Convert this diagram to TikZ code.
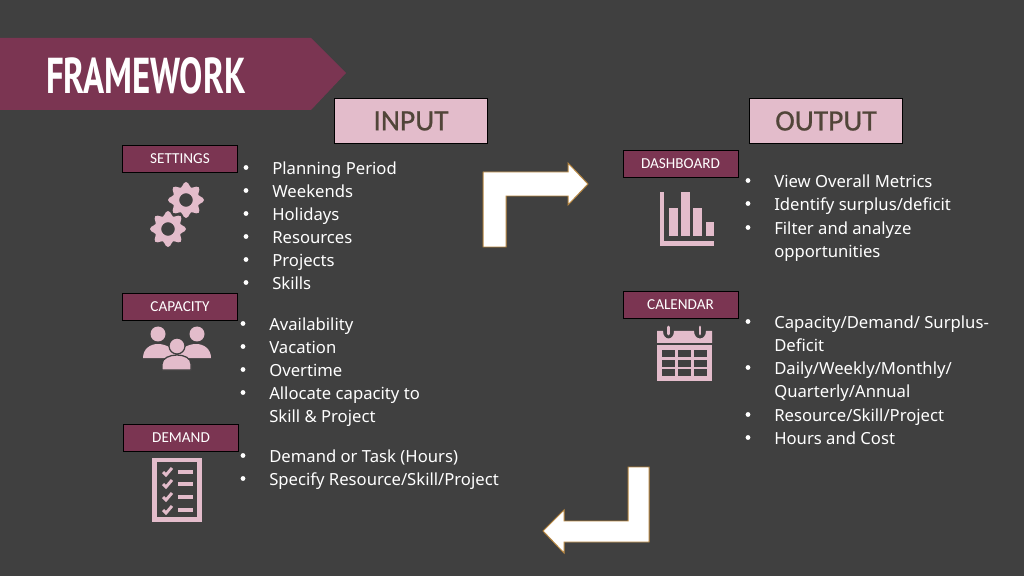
\documentclass[tikz,border=0pt]{standalone}
\usepackage{fontspec}
\setmainfont{Noto Sans}
\newfontfamily\titlefont{PT Sans}
\newfontfamily\tagfont{Carlito}
\newfontfamily\headfont[FakeBold=0.7]{Carlito}
\usetikzlibrary{positioning}
\definecolor{bgdark}{HTML}{404040}
\definecolor{wine}{HTML}{7B3552}
\definecolor{blush}{HTML}{E3BCCB}
\definecolor{headtext}{HTML}{514539}
\definecolor{arrowedge}{HTML}{B5853F}
\tikzset{
    px/.style={x=0.025cm, y=-0.025cm},
    tagbox/.style={draw=black, line width=0.5pt, fill=wine, text=white, minimum width=82pt, minimum height=19pt, inner sep=0pt, font=\fontsize{10.8}{12}\tagfont},
    headbox/.style={draw=black, line width=0.5pt, fill=blush, text=headtext, minimum width=109pt, minimum height=31.5pt, inner sep=0pt, font=\fontsize{21}{23}\headfont},
    listtext/.style={anchor=base west, text=white, inner sep=0pt, font=\fontsize{11.85}{14}\selectfont},
    listdot/.style={circle, fill=white, inner sep=0pt, minimum size=3.4pt},
    turnarrow/.style={draw=arrowedge, line width=0.7pt, fill=white, line join=miter},
    gapline/.style={draw=bgdark, line width=0.9pt, fill=blush},
}
\newcommand{\gearicon}[3]{% centre x, centre y, radius
    \fill[blush, even odd rule]
        plot[smooth cycle, tension=0.5, samples at={0,7.5,...,352.5}, variable=\t]
            ({#1+(#3)*(0.87+0.13*cos(8*\t))*cos(\t)}, {#2+(#3)*(0.87+0.13*cos(8*\t))*sin(\t)})
        (#1,#2) circle ({0.38*(#3)});
}
\newcommand{\bulletitem}[4]{% x of bullet, x of text, y, text
    \node[listdot] at (#1,#3-0.5) {};
    \node[listtext] at (#2,#3+6.5) {#4};
}
\begin{document}
\begin{tikzpicture}[px]
    \fill[bgdark] (0,0) rectangle (1024,576);
    \useasboundingbox (0,0) rectangle (1024,576);

    % title banner
    \fill[wine] (0,38) -- (311,38) -- (346,73) -- (311,110) -- (0,110) -- cycle;
    \node[text=white, inner sep=0pt] (title) at (146,75.5) {\scalebox{0.775}[1.12]{\fontsize{32}{34}\titlefont\bfseries FRAMEWORK}};

    % headings
    \node[headbox] (input) at (411,121) {INPUT};
    \node[headbox] (output) at (826,121) {OUTPUT};

    % tags on the left
    \node[tagbox] (settings) at (180,159) {\raisebox{-0.7pt}{SETTINGS}};
    \node[tagbox] (capacity) at (180,307) {\raisebox{-0.7pt}{CAPACITY}};
    \node[tagbox] (demand) at (181,438) {\raisebox{-0.7pt}{DEMAND}};

    % tags on the right
    \node[tagbox] (dashboard) at (680.5,164) {\raisebox{-0.7pt}{DASHBOARD}};
    \node[tagbox] (calendar) at (680.5,305) {\raisebox{-0.7pt}{CALENDAR}};

    % settings icon
    \gearicon{186}{200}{18}
    \gearicon{168}{229}{18}

    % capacity icon
    \fill[blush] (158,334) circle (7.5);
    \fill[blush] (197,334) circle (7.5);
    \fill[blush] (143,358) .. controls (143,349) and (150,344) .. (158,344) .. controls (166,344) and (176,349) .. (176,358) -- cycle;
    \fill[blush] (211,358) .. controls (211,349) and (204,344) .. (196,344) .. controls (188,344) and (178,349) .. (178,358) -- cycle;
    \draw[gapline] (177,346) circle (8);
    \draw[gapline] (162,370) -- (162,364) .. controls (162,358) and (170,355) .. (177,355) .. controls (184,355) and (191,358) .. (191,364) -- (191,370) -- cycle;

    % demand icon
    \draw[blush, line width=3.2pt] (154.5,460) rectangle (199.5,519.5);
    \foreach \y in {472,484,497,510} {
        \draw[blush, line width=2.1pt] (163,\y) -- (166,\y+3) -- (172,\y-4);
        \draw[blush, line width=2.3pt] (178,\y) -- (193,\y);
    }

    % dashboard icon
    \fill[blush] (660,192) rectangle (664,246);
    \fill[blush] (660,241.5) rectangle (714,246);
    \fill[blush] (669,208) rectangle (678,236);
    \fill[blush] (681,192) rectangle (690,236);
    \fill[blush] (693,208) rectangle (702,236);
    \fill[blush] (706,222) rectangle (714,236);

    % calendar icon
    \fill[blush] (657,331) -- (663,331) .. controls (663,341) and (674,341) .. (674,331) -- (694,331) .. controls (694,341) and (706,341) .. (706,331) -- (712,331) -- (712,343) -- (657,343) -- cycle;
    \draw[blush, line width=2pt, line cap=round] (668.5,327) -- (668.5,334);
    \draw[blush, line width=2pt, line cap=round] (700,327) -- (700,334);
    \fill[blush] (657,345) rectangle (712,381);
    \foreach \x in {662,678,694} {
        \foreach \y in {350,360,369} {
            \fill[bgdark] (\x,\y) rectangle ++(13,6.5);
        }
    }

    % arrows
    \draw[turnarrow] (483,247) -- (483,172) -- (568,172) -- (568,163) -- (588,184) -- (568,205) -- (568,196) -- (506,196) -- (506,247) -- cycle;
    \draw[turnarrow] (649,467) -- (649,542) -- (564,542) -- (564,553) -- (543,531) -- (564,510) -- (564,521) -- (628,521) -- (628,467) -- cycle;

    % input lists
    \foreach \y/\t in {168/Planning Period, 191/Weekends, 214/Holidays, 237/Resources, 260/Projects, 283/Skills} {
        \bulletitem{246}{272}{\y}{\t}
    }
    \foreach \y/\t in {324/Availability, 347/Vacation, 370/Overtime, 393/Allocate capacity to} {
        \bulletitem{243}{269}{\y}{\t}
    }
    \node[listtext] (skillproject) at (269,422.5) {Skill \& Project};
    \foreach \y/\t in {456/{Demand or Task (Hours)}, 479/{Specify Resource/Skill/Project}} {
        \bulletitem{243}{269}{\y}{\t}
    }

    % output lists
    \foreach \y/\t in {181/View Overall Metrics, 204/{Identify surplus/deficit}, 228/Filter and analyze} {
        \bulletitem{748}{774}{\y}{\t}
    }
    \node[listtext] (opportunities) at (774,257.5) {opportunities};
    \bulletitem{748}{774}{322}{Capacity/Demand/ Surplus-}
    \node[listtext] (deficit) at (774,351.5) {Deficit};
    \bulletitem{748}{774}{368}{Daily/Weekly/Monthly/}
    \node[listtext] (quarterly) at (774,397.5) {Quarterly/Annual};
    \bulletitem{748}{774}{415}{Resource/Skill/Project}
    \bulletitem{748}{774}{438}{Hours and Cost}
\end{tikzpicture}
\end{document}
